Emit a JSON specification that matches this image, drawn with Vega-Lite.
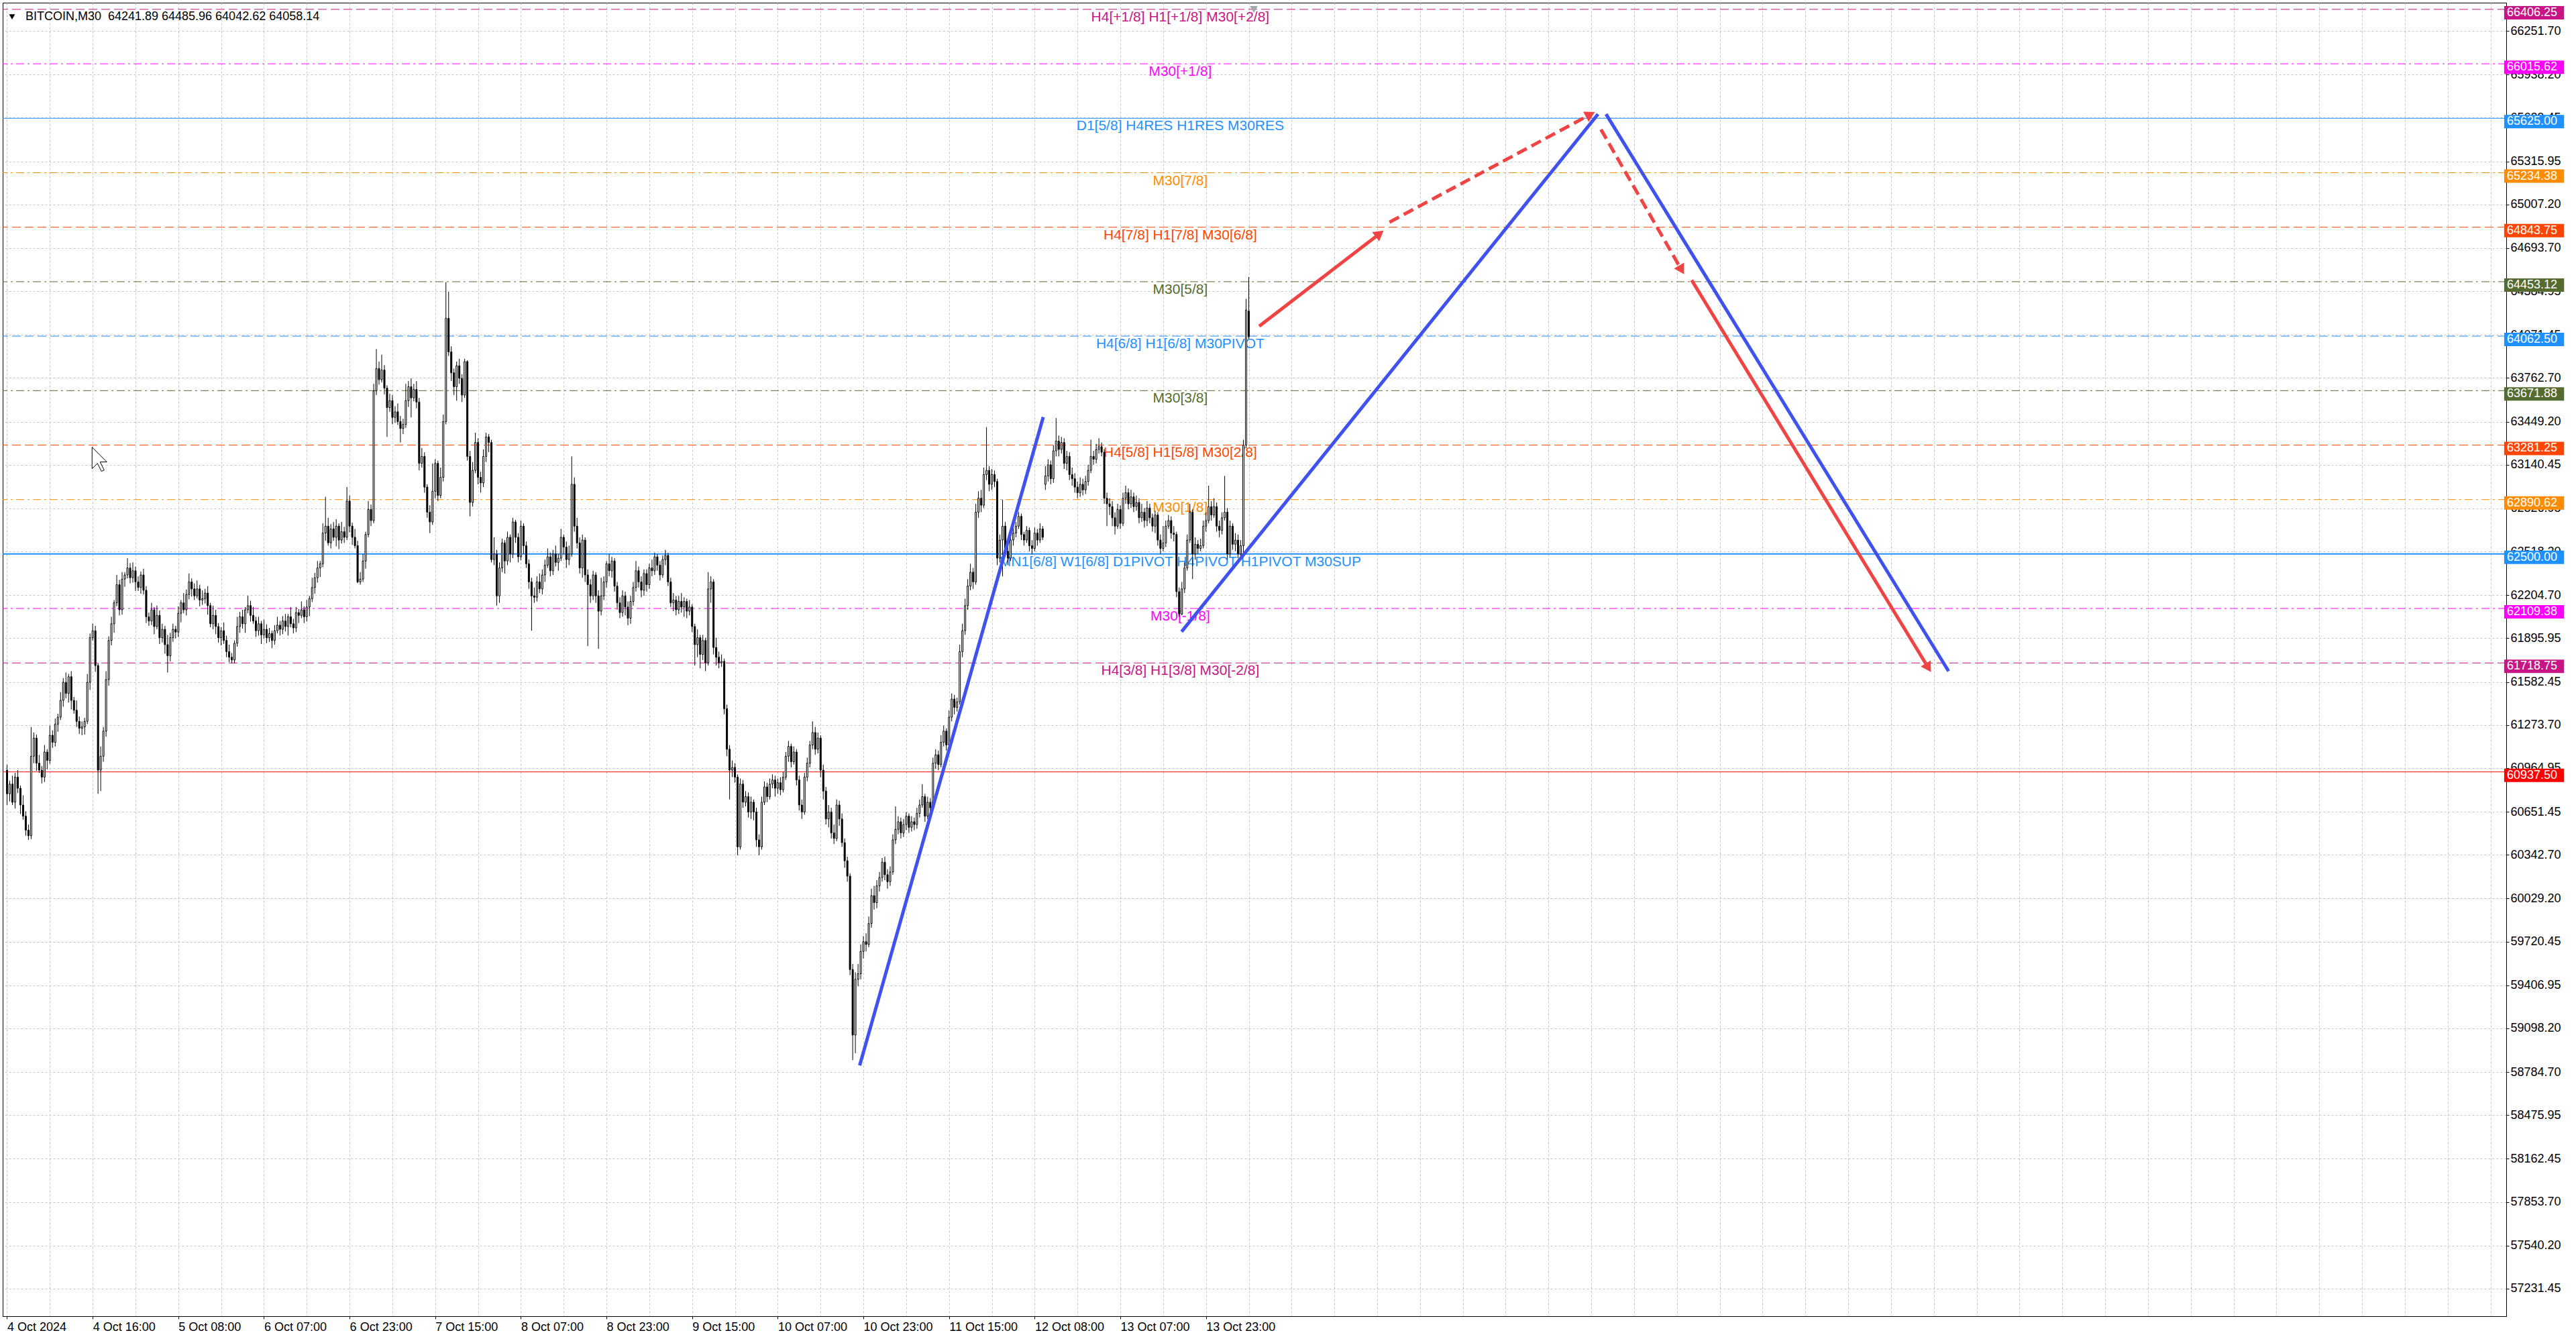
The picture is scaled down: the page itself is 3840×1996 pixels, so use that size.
{
"$schema": "https://vega.github.io/schema/vega-lite/v6.json",
"width": 3732, "height": 1958,
"autosize": {"type": "none"},
"padding": {"left": 4, "top": 4, "right": 104, "bottom": 34},
"background": "#FFFFFF",
"resolve": {"scale": {"strokeDash": "independent", "angle": "independent"}},
"config": {
 "view": {"stroke": "#000000", "strokeWidth": 1},
 "axis": {"labelFont": "Liberation Sans", "labelFontSize": 18, "labelColor": "#000000", "tickColor": "#000000", "domainColor": "#000000", "gridColor": "#C4C4C4", "gridDash": [3, 3], "gridWidth": 1, "title": null}
},
"datasets": {
"levels": [
{"p":66406.25,"t":"H4[+1/8] H1[+1/8] M30[+2/8]","k":"mvr","lab":"66406.25"},
{"p":66015.62,"t":"M30[+1/8]","k":"mag","lab":"66015.62"},
{"p":65625.00,"t":"D1[5/8] H4RES H1RES M30RES","k":"blue","lab":"65625.00"},
{"p":65234.38,"t":"M30[7/8]","k":"orange","lab":"65234.38"},
{"p":64843.75,"t":"H4[7/8] H1[7/8] M30[6/8]","k":"ored","lab":"64843.75"},
{"p":64453.12,"t":"M30[5/8]","k":"olive","lab":"64453.12"},
{"p":64062.50,"t":"H4[6/8] H1[6/8] M30PIVOT","k":"blued","lab":"64062.50"},
{"p":63671.88,"t":"M30[3/8]","k":"olive","lab":"63671.88"},
{"p":63281.25,"t":"H4[5/8] H1[5/8] M30[2/8]","k":"ored","lab":"63281.25"},
{"p":62890.62,"t":"M30[1/8]","k":"orange","lab":"62890.62"},
{"p":62500.00,"t":"MN1[6/8] W1[6/8] D1PIVOT H4PIVOT H1PIVOT M30SUP","k":"blueb","lab":"62500.00"},
{"p":62109.38,"t":"M30[-1/8]","k":"mag","lab":"62109.38"},
{"p":61718.75,"t":"H4[3/8] H1[3/8] M30[-2/8]","k":"mvr","lab":"61718.75"},
{"p":60937.50,"t":"","k":"red","lab":"60937.50"}
],
"trend": [
{"g":"A","b":318.6,"v":58832},{"g":"A","b":387.2,"v":63482},
{"g":"B","b":438.9,"v":61943},{"g":"B","b":594.5,"v":65655},
{"g":"C","b":597.5,"v":65655},{"g":"C","b":725.5,"v":61660}
],
"arrows": [
{"g":"S1","b":467.9,"v":64134},{"g":"S1","b":512.4,"v":64790},
{"g":"D1","b":516.6,"v":64880},{"g":"D1","b":591.1,"v":65647},
{"g":"D2","b":595.6,"v":65545},{"g":"D2","b":625.4,"v":64548},
{"g":"S2","b":629.5,"v":64464},{"g":"S2","b":717.6,"v":61695}
],
"heads": [
{"g":"S1","b":512.4,"v":64790},{"g":"D1","b":591.1,"v":65647},{"g":"D2","b":625.4,"v":64548},{"g":"S2","b":717.6,"v":61695}
],
"candles": [
{"i":0,"o":60950,"h":60990,"l":60700,"c":60780},{"i":1,"o":60780,"h":60875,"l":60725,"c":60850},{"i":2,"o":60850,"h":60910,"l":60700,"c":60720},{"i":3,"o":60720,"h":60930,"l":60675,"c":60900},{"i":4,"o":60900,"h":60950,"l":60785,"c":60820},
{"i":5,"o":60820,"h":60840,"l":60635,"c":60700},{"i":6,"o":60700,"h":60770,"l":60595,"c":60620},{"i":7,"o":60620,"h":60655,"l":60480,"c":60520},{"i":8,"o":60520,"h":60560,"l":60450,"c":60480},{"i":9,"o":60480,"h":61260,"l":60455,"c":61050},
{"i":10,"o":61050,"h":61220,"l":61000,"c":61180},{"i":11,"o":61180,"h":61205,"l":60945,"c":61000},{"i":12,"o":61000,"h":61060,"l":60930,"c":60950},{"i":13,"o":60950,"h":60980,"l":60855,"c":60900},{"i":14,"o":60900,"h":61130,"l":60865,"c":61080},
{"i":15,"o":61080,"h":61100,"l":60955,"c":61020},{"i":16,"o":61020,"h":61270,"l":60995,"c":61200},{"i":17,"o":61200,"h":61235,"l":61110,"c":61150},{"i":18,"o":61150,"h":61320,"l":61120,"c":61280},{"i":19,"o":61280,"h":61355,"l":61225,"c":61330},
{"i":20,"o":61330,"h":61510,"l":61310,"c":61450},{"i":21,"o":61450,"h":61610,"l":61405,"c":61580},{"i":22,"o":61580,"h":61650,"l":61465,"c":61500},{"i":23,"o":61500,"h":61640,"l":61435,"c":61620},{"i":24,"o":61620,"h":61660,"l":61385,"c":61450},
{"i":25,"o":61450,"h":61475,"l":61355,"c":61380},{"i":26,"o":61380,"h":61450,"l":61260,"c":61300},{"i":27,"o":61300,"h":61335,"l":61210,"c":61250},{"i":28,"o":61250,"h":61300,"l":61200,"c":61260},{"i":29,"o":61260,"h":61325,"l":61205,"c":61300},
{"i":30,"o":61300,"h":61640,"l":61280,"c":61580},{"i":31,"o":61580,"h":61930,"l":61525,"c":61900},{"i":32,"o":61900,"h":62000,"l":61880,"c":61950},{"i":33,"o":61950,"h":61985,"l":61655,"c":61700},{"i":34,"o":61700,"h":61720,"l":60780,"c":60950},
{"i":35,"o":60950,"h":61120,"l":60800,"c":61050},{"i":36,"o":61050,"h":61260,"l":61010,"c":61230},{"i":37,"o":61230,"h":61660,"l":61190,"c":61600},{"i":38,"o":61600,"h":61910,"l":61555,"c":61880},{"i":39,"o":61880,"h":62050,"l":61845,"c":62000},
{"i":40,"o":62000,"h":62170,"l":61935,"c":62150},{"i":41,"o":62150,"h":62350,"l":62125,"c":62280},{"i":42,"o":62280,"h":62315,"l":62060,"c":62100},{"i":43,"o":62100,"h":62370,"l":62065,"c":62320},{"i":44,"o":62320,"h":62370,"l":62265,"c":62350},
{"i":45,"o":62350,"h":62470,"l":62325,"c":62400},{"i":46,"o":62400,"h":62435,"l":62290,"c":62330},{"i":47,"o":62330,"h":62440,"l":62295,"c":62380},{"i":48,"o":62380,"h":62410,"l":62235,"c":62300},{"i":49,"o":62300,"h":62340,"l":62235,"c":62260},
{"i":50,"o":62260,"h":62375,"l":62215,"c":62350},{"i":51,"o":62350,"h":62395,"l":62210,"c":62240},{"i":52,"o":62240,"h":62270,"l":62005,"c":62050},{"i":53,"o":62050,"h":62080,"l":61985,"c":62020},{"i":54,"o":62020,"h":62150,"l":61990,"c":62100},
{"i":55,"o":62100,"h":62120,"l":61925,"c":61980},{"i":56,"o":61980,"h":62130,"l":61960,"c":62060},{"i":57,"o":62060,"h":62095,"l":61855,"c":61900},{"i":58,"o":61900,"h":62000,"l":61865,"c":61960},{"i":59,"o":61960,"h":61985,"l":61785,"c":61850},
{"i":60,"o":61850,"h":61920,"l":61650,"c":61770},{"i":61,"o":61770,"h":61935,"l":61730,"c":61900},{"i":62,"o":61900,"h":62000,"l":61870,"c":61960},{"i":63,"o":61960,"h":61985,"l":61895,"c":61940},{"i":64,"o":61940,"h":62125,"l":61905,"c":62075},
{"i":65,"o":62075,"h":62170,"l":62010,"c":62150},{"i":66,"o":62150,"h":62220,"l":62075,"c":62100},{"i":67,"o":62100,"h":62245,"l":62060,"c":62210},{"i":68,"o":62210,"h":62360,"l":62175,"c":62300},{"i":69,"o":62300,"h":62325,"l":62195,"c":62250},
{"i":70,"o":62250,"h":62290,"l":62170,"c":62200},{"i":71,"o":62200,"h":62310,"l":62180,"c":62250},{"i":72,"o":62250,"h":62280,"l":62125,"c":62170},{"i":73,"o":62170,"h":62240,"l":62135,"c":62180},{"i":74,"o":62180,"h":62250,"l":62145,"c":62220},
{"i":75,"o":62220,"h":62270,"l":62065,"c":62130},{"i":76,"o":62130,"h":62150,"l":61975,"c":62000},{"i":77,"o":62000,"h":62130,"l":61960,"c":62060},{"i":78,"o":62060,"h":62100,"l":61925,"c":61980},{"i":79,"o":61980,"h":62005,"l":61865,"c":61900},
{"i":80,"o":61900,"h":61975,"l":61845,"c":61950},{"i":81,"o":61950,"h":62010,"l":61855,"c":61880},{"i":82,"o":61880,"h":61915,"l":61760,"c":61800},{"i":83,"o":61800,"h":61850,"l":61725,"c":61760},{"i":84,"o":61760,"h":61790,"l":61715,"c":61740},
{"i":85,"o":61740,"h":61880,"l":61715,"c":61860},{"i":86,"o":61860,"h":62050,"l":61835,"c":61980},{"i":87,"o":61980,"h":62085,"l":61935,"c":62050},{"i":88,"o":62050,"h":62100,"l":61965,"c":62000},{"i":89,"o":62000,"h":62120,"l":61935,"c":62100},
{"i":90,"o":62100,"h":62200,"l":62075,"c":62130},{"i":91,"o":62130,"h":62165,"l":62015,"c":62060},{"i":92,"o":62060,"h":62120,"l":62000,"c":62020},{"i":93,"o":62020,"h":62050,"l":61905,"c":61950},{"i":94,"o":61950,"h":62050,"l":61915,"c":62000},
{"i":95,"o":62000,"h":62020,"l":61855,"c":61920},{"i":96,"o":61920,"h":62030,"l":61895,"c":61960},{"i":97,"o":61960,"h":61995,"l":61860,"c":61900},{"i":98,"o":61900,"h":61970,"l":61870,"c":61930},{"i":99,"o":61930,"h":61950,"l":61825,"c":61880},
{"i":100,"o":61880,"h":61990,"l":61850,"c":61950},{"i":101,"o":61950,"h":62050,"l":61930,"c":61990},{"i":102,"o":61990,"h":62020,"l":61915,"c":61960},{"i":103,"o":61960,"h":62055,"l":61925,"c":62020},{"i":104,"o":62020,"h":62070,"l":61945,"c":61980},
{"i":105,"o":61980,"h":62070,"l":61915,"c":62050},{"i":106,"o":62050,"h":62120,"l":61975,"c":62000},{"i":107,"o":62000,"h":62035,"l":61930,"c":61970},{"i":108,"o":61970,"h":62120,"l":61940,"c":62080},{"i":109,"o":62080,"h":62105,"l":62005,"c":62060},
{"i":110,"o":62060,"h":62160,"l":62040,"c":62100},{"i":111,"o":62100,"h":62125,"l":62005,"c":62050},{"i":112,"o":62050,"h":62170,"l":62015,"c":62120},{"i":113,"o":62120,"h":62200,"l":62055,"c":62180},{"i":114,"o":62180,"h":62330,"l":62155,"c":62260},
{"i":115,"o":62260,"h":62365,"l":62215,"c":62330},{"i":116,"o":62330,"h":62450,"l":62295,"c":62400},{"i":117,"o":62400,"h":62450,"l":62335,"c":62430},{"i":118,"o":62430,"h":62720,"l":62405,"c":62650},{"i":119,"o":62650,"h":62910,"l":62595,"c":62700},
{"i":120,"o":62700,"h":62760,"l":62560,"c":62580},{"i":121,"o":62580,"h":62715,"l":62540,"c":62680},{"i":122,"o":62680,"h":62730,"l":62595,"c":62620},{"i":123,"o":62620,"h":62750,"l":62555,"c":62700},{"i":124,"o":62700,"h":62720,"l":62535,"c":62600},
{"i":125,"o":62600,"h":62730,"l":62575,"c":62660},{"i":126,"o":62660,"h":62695,"l":62580,"c":62620},{"i":127,"o":62620,"h":62980,"l":62600,"c":62880},{"i":128,"o":62880,"h":62920,"l":62655,"c":62700},{"i":129,"o":62700,"h":62725,"l":62565,"c":62620},
{"i":130,"o":62620,"h":62680,"l":62540,"c":62560},{"i":131,"o":62560,"h":62595,"l":62290,"c":62300},{"i":132,"o":62300,"h":62370,"l":62280,"c":62320},{"i":133,"o":62320,"h":62500,"l":62300,"c":62450},{"i":134,"o":62450,"h":62660,"l":62395,"c":62640},
{"i":135,"o":62640,"h":62880,"l":62620,"c":62820},{"i":136,"o":62820,"h":62855,"l":62700,"c":62740},{"i":137,"o":62740,"h":63720,"l":62720,"c":63670},{"i":138,"o":63670,"h":63970,"l":63640,"c":63830},{"i":139,"o":63830,"h":63880,"l":63715,"c":63750},
{"i":140,"o":63750,"h":63930,"l":63730,"c":63820},{"i":141,"o":63820,"h":63855,"l":63645,"c":63690},{"i":142,"o":63690,"h":63710,"l":63340,"c":63550},{"i":143,"o":63550,"h":63650,"l":63520,"c":63600},{"i":144,"o":63600,"h":63640,"l":63430,"c":63480},
{"i":145,"o":63480,"h":63560,"l":63440,"c":63520},{"i":146,"o":63520,"h":63580,"l":63425,"c":63450},{"i":147,"o":63450,"h":63490,"l":63300,"c":63400},{"i":148,"o":63400,"h":63470,"l":63360,"c":63430},{"i":149,"o":63430,"h":63720,"l":63405,"c":63600},
{"i":150,"o":63600,"h":63740,"l":63555,"c":63700},{"i":151,"o":63700,"h":63760,"l":63480,"c":63620},{"i":152,"o":63620,"h":63720,"l":63595,"c":63680},{"i":153,"o":63680,"h":63740,"l":63545,"c":63590},{"i":154,"o":63590,"h":63620,"l":63100,"c":63150},
{"i":155,"o":63150,"h":63260,"l":63120,"c":63200},{"i":156,"o":63200,"h":63230,"l":62940,"c":62980},{"i":157,"o":62980,"h":63000,"l":62760,"c":62800},{"i":158,"o":62800,"h":62850,"l":62650,"c":62730},{"i":159,"o":62730,"h":63150,"l":62710,"c":62950},
{"i":160,"o":62950,"h":63180,"l":62900,"c":63150},{"i":161,"o":63150,"h":63170,"l":62880,"c":62920},{"i":162,"o":62920,"h":63120,"l":62900,"c":63050},{"i":163,"o":63050,"h":63500,"l":63020,"c":63450},{"i":164,"o":63450,"h":64450,"l":63430,"c":64190},
{"i":165,"o":64190,"h":64380,"l":63920,"c":63950},{"i":166,"o":63950,"h":63990,"l":63740,"c":63800},{"i":167,"o":63800,"h":63830,"l":63640,"c":63700},{"i":168,"o":63700,"h":63880,"l":63600,"c":63850},{"i":169,"o":63850,"h":63900,"l":63720,"c":63760},
{"i":170,"o":63760,"h":63790,"l":63590,"c":63640},{"i":171,"o":63640,"h":63900,"l":63620,"c":63880},{"i":172,"o":63880,"h":63890,"l":63170,"c":63200},{"i":173,"o":63200,"h":63240,"l":62770,"c":62870},{"i":174,"o":62870,"h":63160,"l":62840,"c":63100},
{"i":175,"o":63100,"h":63370,"l":63080,"c":63300},{"i":176,"o":63300,"h":63330,"l":63000,"c":63050},{"i":177,"o":63050,"h":63090,"l":62940,"c":63010},{"i":178,"o":63010,"h":63250,"l":62980,"c":63200},{"i":179,"o":63200,"h":63370,"l":63160,"c":63340},
{"i":180,"o":63340,"h":63360,"l":63230,"c":63300},{"i":181,"o":63300,"h":63320,"l":62440,"c":62460},{"i":182,"o":62460,"h":62620,"l":62420,"c":62500},{"i":183,"o":62500,"h":62530,"l":62130,"c":62200},{"i":184,"o":62200,"h":62440,"l":62150,"c":62400},
{"i":185,"o":62400,"h":62610,"l":62370,"c":62580},{"i":186,"o":62580,"h":62600,"l":62360,"c":62450},{"i":187,"o":62450,"h":62660,"l":62420,"c":62620},{"i":188,"o":62620,"h":62640,"l":62440,"c":62500},{"i":189,"o":62500,"h":62760,"l":62470,"c":62730},
{"i":190,"o":62730,"h":62745,"l":62580,"c":62620},{"i":191,"o":62620,"h":62650,"l":62440,"c":62480},{"i":192,"o":62480,"h":62740,"l":62455,"c":62700},{"i":193,"o":62700,"h":62720,"l":62500,"c":62560},{"i":194,"o":62560,"h":62590,"l":62400,"c":62430},
{"i":195,"o":62430,"h":62460,"l":62250,"c":62300},{"i":196,"o":62300,"h":62330,"l":61950,"c":62200},{"i":197,"o":62200,"h":62260,"l":62150,"c":62190},{"i":198,"o":62190,"h":62340,"l":62160,"c":62300},{"i":199,"o":62300,"h":62360,"l":62220,"c":62250},
{"i":200,"o":62250,"h":62390,"l":62210,"c":62350},{"i":201,"o":62350,"h":62460,"l":62300,"c":62420},{"i":202,"o":62420,"h":62540,"l":62400,"c":62480},{"i":203,"o":62480,"h":62510,"l":62340,"c":62380},{"i":204,"o":62380,"h":62530,"l":62350,"c":62500},
{"i":205,"o":62500,"h":62560,"l":62410,"c":62440},{"i":206,"o":62440,"h":62500,"l":62380,"c":62470},{"i":207,"o":62470,"h":62680,"l":62450,"c":62620},{"i":208,"o":62620,"h":62640,"l":62500,"c":62550},{"i":209,"o":62550,"h":62590,"l":62400,"c":62460},
{"i":210,"o":62460,"h":62560,"l":62420,"c":62500},{"i":211,"o":62500,"h":63200,"l":62480,"c":63000},{"i":212,"o":63000,"h":63050,"l":62660,"c":62700},{"i":213,"o":62700,"h":62760,"l":62540,"c":62580},{"i":214,"o":62580,"h":62620,"l":62360,"c":62400},
{"i":215,"o":62400,"h":62640,"l":62330,"c":62600},{"i":216,"o":62600,"h":62620,"l":62300,"c":62350},{"i":217,"o":62350,"h":62390,"l":61840,"c":62280},{"i":218,"o":62280,"h":62320,"l":62150,"c":62200},{"i":219,"o":62200,"h":62380,"l":62170,"c":62350},
{"i":220,"o":62350,"h":62370,"l":62150,"c":62200},{"i":221,"o":62200,"h":62240,"l":61820,"c":62090},{"i":222,"o":62090,"h":62330,"l":62060,"c":62200},{"i":223,"o":62200,"h":62340,"l":62170,"c":62300},{"i":224,"o":62300,"h":62450,"l":62260,"c":62430},
{"i":225,"o":62430,"h":62500,"l":62340,"c":62380},{"i":226,"o":62380,"h":62480,"l":62330,"c":62450},{"i":227,"o":62450,"h":62470,"l":62230,"c":62270},{"i":228,"o":62270,"h":62300,"l":62100,"c":62150},{"i":229,"o":62150,"h":62190,"l":62040,"c":62080},
{"i":230,"o":62080,"h":62240,"l":62050,"c":62200},{"i":231,"o":62200,"h":62230,"l":62060,"c":62120},{"i":232,"o":62120,"h":62160,"l":61990,"c":62040},{"i":233,"o":62040,"h":62200,"l":62000,"c":62160},{"i":234,"o":62160,"h":62300,"l":62130,"c":62260},
{"i":235,"o":62260,"h":62450,"l":62230,"c":62380},{"i":236,"o":62380,"h":62410,"l":62260,"c":62300},{"i":237,"o":62300,"h":62340,"l":62190,"c":62240},{"i":238,"o":62240,"h":62390,"l":62200,"c":62360},{"i":239,"o":62360,"h":62390,"l":62230,"c":62280},
{"i":240,"o":62280,"h":62430,"l":62250,"c":62400},{"i":241,"o":62400,"h":62460,"l":62340,"c":62380},{"i":242,"o":62380,"h":62510,"l":62350,"c":62480},{"i":243,"o":62480,"h":62500,"l":62380,"c":62420},{"i":244,"o":62420,"h":62450,"l":62310,"c":62350},
{"i":245,"o":62350,"h":62490,"l":62330,"c":62460},{"i":246,"o":62460,"h":62530,"l":62420,"c":62490},{"i":247,"o":62490,"h":62510,"l":62270,"c":62300},{"i":248,"o":62300,"h":62330,"l":62120,"c":62150},{"i":249,"o":62150,"h":62220,"l":62090,"c":62170},
{"i":250,"o":62170,"h":62200,"l":62060,"c":62100},{"i":251,"o":62100,"h":62200,"l":62070,"c":62160},{"i":252,"o":62160,"h":62220,"l":62080,"c":62120},{"i":253,"o":62120,"h":62190,"l":62050,"c":62160},{"i":254,"o":62160,"h":62180,"l":62040,"c":62090},
{"i":255,"o":62090,"h":62170,"l":62060,"c":62120},{"i":256,"o":62120,"h":62140,"l":61940,"c":61980},{"i":257,"o":61980,"h":62000,"l":61700,"c":61850},{"i":258,"o":61850,"h":61960,"l":61760,"c":61900},{"i":259,"o":61900,"h":61920,"l":61680,"c":61780},
{"i":260,"o":61780,"h":61920,"l":61740,"c":61880},{"i":261,"o":61880,"h":61900,"l":61660,"c":61720},{"i":262,"o":61720,"h":62370,"l":61700,"c":62250},{"i":263,"o":62250,"h":62340,"l":62150,"c":62300},{"i":264,"o":62300,"h":62320,"l":61780,"c":61830},
{"i":265,"o":61830,"h":61900,"l":61700,"c":61760},{"i":266,"o":61760,"h":61800,"l":61680,"c":61720},{"i":267,"o":61720,"h":61780,"l":61690,"c":61730},{"i":268,"o":61730,"h":61750,"l":61350,"c":61390},{"i":269,"o":61390,"h":61420,"l":61050,"c":61100},
{"i":270,"o":61100,"h":61130,"l":60740,"c":60950},{"i":271,"o":60950,"h":61020,"l":60900,"c":60970},{"i":272,"o":60970,"h":61000,"l":60860,"c":60900},{"i":273,"o":60900,"h":60920,"l":60340,"c":60400},{"i":274,"o":60400,"h":60890,"l":60380,"c":60850},
{"i":275,"o":60850,"h":60880,"l":60680,"c":60720},{"i":276,"o":60720,"h":60800,"l":60690,"c":60760},{"i":277,"o":60760,"h":60790,"l":60610,"c":60650},{"i":278,"o":60650,"h":60760,"l":60600,"c":60720},{"i":279,"o":60720,"h":60740,"l":60590,"c":60650},
{"i":280,"o":60650,"h":60680,"l":60400,"c":60450},{"i":281,"o":60450,"h":60490,"l":60340,"c":60400},{"i":282,"o":60400,"h":60760,"l":60380,"c":60720},{"i":283,"o":60720,"h":60870,"l":60700,"c":60830},{"i":284,"o":60830,"h":60860,"l":60720,"c":60760},
{"i":285,"o":60760,"h":60890,"l":60740,"c":60850},{"i":286,"o":60850,"h":60920,"l":60820,"c":60880},{"i":287,"o":60880,"h":60910,"l":60760,"c":60820},{"i":288,"o":60820,"h":60890,"l":60780,"c":60860},{"i":289,"o":60860,"h":60900,"l":60770,"c":60810},
{"i":290,"o":60810,"h":60940,"l":60790,"c":60900},{"i":291,"o":60900,"h":61080,"l":60880,"c":61050},{"i":292,"o":61050,"h":61160,"l":61010,"c":61120},{"i":293,"o":61120,"h":61140,"l":60970,"c":61010},{"i":294,"o":61010,"h":61120,"l":60990,"c":61080},
{"i":295,"o":61080,"h":61100,"l":60840,"c":60880},{"i":296,"o":60880,"h":60910,"l":60660,"c":60700},{"i":297,"o":60700,"h":60740,"l":60600,"c":60650},{"i":298,"o":60650,"h":60930,"l":60630,"c":60900},{"i":299,"o":60900,"h":61040,"l":60870,"c":61000},
{"i":300,"o":61000,"h":61160,"l":60970,"c":61130},{"i":301,"o":61130,"h":61300,"l":61100,"c":61220},{"i":302,"o":61220,"h":61260,"l":61060,"c":61100},{"i":303,"o":61100,"h":61220,"l":61070,"c":61180},{"i":304,"o":61180,"h":61200,"l":60900,"c":60950},
{"i":305,"o":60950,"h":60990,"l":60740,"c":60800},{"i":306,"o":60800,"h":60830,"l":60560,"c":60600},{"i":307,"o":60600,"h":60700,"l":60540,"c":60650},{"i":308,"o":60650,"h":60680,"l":60460,"c":60500},{"i":309,"o":60500,"h":60560,"l":60420,"c":60460},
{"i":310,"o":60460,"h":60740,"l":60440,"c":60700},{"i":311,"o":60700,"h":60730,"l":60550,"c":60600},{"i":312,"o":60600,"h":60640,"l":60400,"c":60430},{"i":313,"o":60430,"h":60460,"l":60250,"c":60300},{"i":314,"o":60300,"h":60330,"l":60150,"c":60190},
{"i":315,"o":60190,"h":60210,"l":59480,"c":59520},{"i":316,"o":59520,"h":59560,"l":58870,"c":59050},{"i":317,"o":59050,"h":59500,"l":58920,"c":59450},{"i":318,"o":59450,"h":59560,"l":59400,"c":59490},{"i":319,"o":59490,"h":59700,"l":59450,"c":59650},
{"i":320,"o":59650,"h":59760,"l":59600,"c":59720},{"i":321,"o":59720,"h":59780,"l":59650,"c":59700},{"i":322,"o":59700,"h":59900,"l":59680,"c":59850},{"i":323,"o":59850,"h":60100,"l":59820,"c":60050},{"i":324,"o":60050,"h":60120,"l":59950,"c":60000},
{"i":325,"o":60000,"h":60160,"l":59960,"c":60120},{"i":326,"o":60120,"h":60220,"l":60080,"c":60180},{"i":327,"o":60180,"h":60320,"l":60150,"c":60290},{"i":328,"o":60290,"h":60330,"l":60160,"c":60200},{"i":329,"o":60200,"h":60240,"l":60100,"c":60150},
{"i":330,"o":60150,"h":60260,"l":60120,"c":60220},{"i":331,"o":60220,"h":60490,"l":60200,"c":60450},{"i":332,"o":60450,"h":60690,"l":60420,"c":60525},{"i":333,"o":60525,"h":60620,"l":60490,"c":60580},{"i":334,"o":60580,"h":60610,"l":60460,"c":60500},
{"i":335,"o":60500,"h":60600,"l":60470,"c":60560},{"i":336,"o":60560,"h":60650,"l":60520,"c":60620},{"i":337,"o":60620,"h":60640,"l":60500,"c":60540},{"i":338,"o":60540,"h":60620,"l":60510,"c":60580},{"i":339,"o":60580,"h":60610,"l":60520,"c":60560},
{"i":340,"o":60560,"h":60680,"l":60530,"c":60640},{"i":341,"o":60640,"h":60740,"l":60610,"c":60700},{"i":342,"o":60700,"h":60850,"l":60680,"c":60760},{"i":343,"o":60760,"h":60780,"l":60580,"c":60620},{"i":344,"o":60620,"h":60760,"l":60600,"c":60720},
{"i":345,"o":60720,"h":60750,"l":60640,"c":60680},{"i":346,"o":60680,"h":61040,"l":60660,"c":61000},{"i":347,"o":61000,"h":61100,"l":60960,"c":61060},{"i":348,"o":61060,"h":61090,"l":60950,"c":60990},{"i":349,"o":60990,"h":61200,"l":60970,"c":61150},
{"i":350,"o":61150,"h":61270,"l":61120,"c":61230},{"i":351,"o":61230,"h":61250,"l":61090,"c":61130},{"i":352,"o":61130,"h":61380,"l":61110,"c":61330},{"i":353,"o":61330,"h":61500,"l":61300,"c":61460},{"i":354,"o":61460,"h":61490,"l":61350,"c":61400},
{"i":355,"o":61400,"h":61470,"l":61370,"c":61440},{"i":356,"o":61440,"h":61850,"l":61420,"c":61800},{"i":357,"o":61800,"h":62000,"l":61760,"c":61950},{"i":358,"o":61950,"h":62180,"l":61920,"c":62130},{"i":359,"o":62130,"h":62320,"l":62100,"c":62270},
{"i":360,"o":62270,"h":62430,"l":62240,"c":62370},{"i":361,"o":62370,"h":62400,"l":62250,"c":62300},{"i":362,"o":62300,"h":62860,"l":62280,"c":62800},{"i":363,"o":62800,"h":62950,"l":62760,"c":62900},{"i":364,"o":62900,"h":62960,"l":62800,"c":62850},
{"i":365,"o":62850,"h":63120,"l":62830,"c":63070},{"i":366,"o":63070,"h":63410,"l":63030,"c":63100},{"i":367,"o":63100,"h":63130,"l":62950,"c":63000},{"i":368,"o":63000,"h":63110,"l":62960,"c":63070},{"i":369,"o":63070,"h":63100,"l":62980,"c":63020},
{"i":370,"o":63020,"h":63040,"l":62420,"c":62470},{"i":371,"o":62470,"h":62640,"l":62440,"c":62600},{"i":372,"o":62600,"h":62890,"l":62340,"c":62700},{"i":373,"o":62700,"h":62730,"l":62480,"c":62520},{"i":374,"o":62520,"h":62560,"l":62420,"c":62470},
{"i":375,"o":62470,"h":62640,"l":62450,"c":62600},{"i":376,"o":62600,"h":62690,"l":62560,"c":62650},{"i":377,"o":62650,"h":62730,"l":62620,"c":62700},{"i":378,"o":62700,"h":62800,"l":62680,"c":62770},{"i":379,"o":62770,"h":62790,"l":62600,"c":62640},
{"i":380,"o":62640,"h":62660,"l":62560,"c":62600},{"i":381,"o":62600,"h":62700,"l":62580,"c":62670},{"i":382,"o":62670,"h":62690,"l":62520,"c":62560},{"i":383,"o":62560,"h":62600,"l":62500,"c":62540},{"i":384,"o":62540,"h":62690,"l":62520,"c":62650},
{"i":385,"o":62650,"h":62680,"l":62560,"c":62600},{"i":386,"o":62600,"h":62720,"l":62580,"c":62680},{"i":387,"o":62680,"h":62700,"l":62600,"c":62620},{"i":388,"o":63000,"h":63130,"l":62960,"c":63060},{"i":389,"o":63060,"h":63180,"l":63020,"c":63140},
{"i":390,"o":63140,"h":63170,"l":63000,"c":63040},{"i":391,"o":63040,"h":63280,"l":63010,"c":63240},{"i":392,"o":63240,"h":63475,"l":63200,"c":63310},{"i":393,"o":63310,"h":63350,"l":63200,"c":63250},{"i":394,"o":63250,"h":63340,"l":63220,"c":63300},
{"i":395,"o":63300,"h":63330,"l":63110,"c":63150},{"i":396,"o":63150,"h":63240,"l":63100,"c":63200},{"i":397,"o":63200,"h":63230,"l":63030,"c":63070},{"i":398,"o":63070,"h":63120,"l":62990,"c":63040},{"i":399,"o":63040,"h":63080,"l":62940,"c":62980},
{"i":400,"o":62980,"h":63020,"l":62900,"c":62940},{"i":401,"o":62940,"h":63050,"l":62910,"c":63000},{"i":402,"o":63000,"h":63040,"l":62920,"c":62960},{"i":403,"o":62960,"h":63060,"l":62930,"c":63020},{"i":404,"o":63020,"h":63140,"l":62990,"c":63100},
{"i":405,"o":63100,"h":63320,"l":63080,"c":63200},{"i":406,"o":63200,"h":63240,"l":63140,"c":63180},{"i":407,"o":63180,"h":63290,"l":63150,"c":63250},{"i":408,"o":63250,"h":63330,"l":63220,"c":63270},{"i":409,"o":63270,"h":63300,"l":63200,"c":63230},
{"i":410,"o":63230,"h":63250,"l":62860,"c":62900},{"i":411,"o":62900,"h":62940,"l":62700,"c":62860},{"i":412,"o":62860,"h":62900,"l":62780,"c":62840},{"i":413,"o":62840,"h":62880,"l":62700,"c":62760},{"i":414,"o":62760,"h":62800,"l":62640,"c":62700},
{"i":415,"o":62700,"h":62860,"l":62680,"c":62820},{"i":416,"o":62820,"h":62850,"l":62680,"c":62720},{"i":417,"o":62720,"h":62940,"l":62700,"c":62900},{"i":418,"o":62900,"h":62990,"l":62860,"c":62940},{"i":419,"o":62940,"h":62970,"l":62820,"c":62860},
{"i":420,"o":62860,"h":62960,"l":62830,"c":62910},{"i":421,"o":62910,"h":62940,"l":62800,"c":62840},{"i":422,"o":62840,"h":62920,"l":62810,"c":62870},{"i":423,"o":62870,"h":62900,"l":62720,"c":62760},{"i":424,"o":62760,"h":62860,"l":62730,"c":62800},
{"i":425,"o":62800,"h":62830,"l":62690,"c":62740},{"i":426,"o":62740,"h":62880,"l":62700,"c":62830},{"i":427,"o":62830,"h":62860,"l":62720,"c":62760},{"i":428,"o":62760,"h":62790,"l":62660,"c":62700},{"i":429,"o":62700,"h":62810,"l":62650,"c":62780},
{"i":430,"o":62780,"h":62800,"l":62560,"c":62600},{"i":431,"o":62600,"h":62640,"l":62500,"c":62540},{"i":432,"o":62540,"h":62700,"l":62520,"c":62580},{"i":433,"o":62580,"h":62740,"l":62550,"c":62700},{"i":434,"o":62700,"h":62780,"l":62680,"c":62740},
{"i":435,"o":62740,"h":62770,"l":62610,"c":62650},{"i":436,"o":62650,"h":62700,"l":62590,"c":62640},{"i":437,"o":62640,"h":62660,"l":62190,"c":62230},{"i":438,"o":62230,"h":62260,"l":62050,"c":62070},{"i":439,"o":62070,"h":62300,"l":62060,"c":62250},
{"i":440,"o":62250,"h":62440,"l":62220,"c":62400},{"i":441,"o":62400,"h":62640,"l":62380,"c":62600},{"i":442,"o":62600,"h":62860,"l":62580,"c":62800},{"i":443,"o":62800,"h":62820,"l":62320,"c":62500},{"i":444,"o":62500,"h":62620,"l":62460,"c":62570},
{"i":445,"o":62570,"h":62600,"l":62500,"c":62540},{"i":446,"o":62540,"h":62610,"l":62520,"c":62560},{"i":447,"o":62560,"h":62740,"l":62540,"c":62700},{"i":448,"o":62700,"h":62800,"l":62660,"c":62740},{"i":449,"o":62740,"h":62990,"l":62720,"c":62840},
{"i":450,"o":62840,"h":62880,"l":62740,"c":62780},{"i":451,"o":62780,"h":62900,"l":62760,"c":62840},{"i":452,"o":62840,"h":62870,"l":62660,"c":62700},{"i":453,"o":62700,"h":62740,"l":62620,"c":62670},{"i":454,"o":62670,"h":62800,"l":62640,"c":62760},
{"i":455,"o":62760,"h":63060,"l":62740,"c":62800},{"i":456,"o":62800,"h":62830,"l":62460,"c":62500},{"i":457,"o":62500,"h":62740,"l":62480,"c":62700},{"i":458,"o":62700,"h":62720,"l":62530,"c":62570},{"i":459,"o":62570,"h":62650,"l":62520,"c":62600},
{"i":460,"o":62600,"h":62640,"l":62470,"c":62500},{"i":461,"o":62500,"h":62600,"l":62480,"c":62560},{"i":462,"o":62560,"h":63320,"l":62500,"c":63280},{"i":463,"o":63280,"h":64330,"l":63260,"c":64250},{"i":464,"o":64241.89,"h":64485.96,"l":64042.62,"c":64058.14}
]
},
"layer": [
{
 "data": {"name": "levels"},
 "mark": {"type": "rule"},
 "encoding": {
  "y": {"field": "p", "type": "quantitative", "title": null,
        "scale": {"domain": [57058, 66430], "nice": false, "zero": false},
        "axis": {"orient": "right", "values": [66251.70,65938.20,65629.45,65315.95,65007.20,64693.70,64384.95,64071.45,63762.70,63449.20,63140.45,62826.95,62518.20,62204.70,61895.95,61582.45,61273.70,60964.95,60651.45,60342.70,60029.20,59720.45,59406.95,59098.20,58784.70,58475.95,58162.45,57853.70,57540.20,57231.45],
                 "format": ".2f", "labelAlign": "left", "labelBaseline": "middle", "tickSize": 4, "labelPadding": 2, "grid": true, "title": null, "labelOverlap": false, "labelFlush": false}},
  "color": {"field": "k", "type": "nominal", "legend": null,
            "scale": {"domain": ["mvr","mag","blue","blueb","blued","orange","ored","olive","red"], "range": ["#C71585","#FF00FF","#1E90FF","#1E90FF","#1E90FF","#FF8C00","#FF4500","#556B2F","#FF0000"]}},
  "strokeDash": {"field": "k", "type": "nominal", "legend": null,
            "scale": {"domain": ["mvr","mag","blue","blueb","blued","orange","ored","olive","red"], "range": [[13,6],[12,5,3,5],[1,0],[1,0],[13,6],[12,5,3,5],[13,6],[12,5,3,5],[1,0]]}},
  "strokeWidth": {"condition": {"test": "datum.k === 'blueb'", "value": 2}, "value": 1}
 }
},
{
 "data": {"name": "levels"},
 "transform": [{"filter": "datum.t !== ''"}],
 "mark": {"type": "text", "font": "Liberation Sans", "fontSize": 21, "align": "center", "baseline": "top", "dy": 1},
 "encoding": {
  "x": {"datum": 438.4, "type": "quantitative", "title": null, "scale": {"domain": [-0.375, 932.625], "nice": false, "zero": false}},
  "y": {"field": "p", "type": "quantitative", "title": null, "scale": {"domain": [57058, 66430], "nice": false, "zero": false}},
  "text": {"field": "t"},
  "color": {"field": "k", "type": "nominal", "legend": null,
            "scale": {"domain": ["mvr","mag","blue","blueb","blued","orange","ored","olive","red"], "range": ["#C71585","#FF00FF","#1E90FF","#1E90FF","#1E90FF","#FF8C00","#FF4500","#556B2F","#FF0000"]}}
 }
},
{
 "data": {"name": "candles"},
 "mark": {"type": "rule", "color": "#000000", "strokeWidth": 1},
 "encoding": {
  "x": {"field": "i", "type": "quantitative", "title": null,
        "scale": {"domain": [-0.375, 932.625], "nice": false, "zero": false},
        "axis": {"values": [0,16,32,48,64,80,96,112,128,144,160,176,192,208,224,240,256,272,288,304,320,336,352,368,384,400,416,432,448,464,480,496,512,528,544,560,576,592,608,624,640,656,672,688,704,720,736,752,768,784,800,816,832,848,864,880,896,912,928],
                 "labelExpr": "(datum.value % 32 === 0 && datum.value <= 448) ? ['4 Oct 2024','4 Oct 16:00','5 Oct 08:00','6 Oct 07:00','6 Oct 23:00','7 Oct 15:00','8 Oct 07:00','8 Oct 23:00','9 Oct 15:00','10 Oct 07:00','10 Oct 23:00','11 Oct 15:00','12 Oct 08:00','13 Oct 07:00','13 Oct 23:00'][datum.value / 32] : ''",
                 "labelAlign": "left", "labelBaseline": "top", "labelOverlap": false, "labelFlush": false, "tickSize": 4, "labelPadding": 3, "grid": true, "title": null,
                 "tickColor": {"condition": {"test": "datum.value % 32 === 0 && datum.value <= 448", "value": "#000000"}, "value": "rgba(0,0,0,0)"}}},
  "y": {"field": "l", "type": "quantitative", "title": null, "scale": {"domain": [57058, 66430], "nice": false, "zero": false}},
  "y2": {"field": "h"}
 }
},
{
 "data": {"name": "candles"},
 "mark": {"type": "bar", "size": 2, "stroke": "#000000", "strokeWidth": 1, "orient": "vertical"},
 "encoding": {
  "x": {"field": "i", "type": "quantitative", "title": null, "scale": {"domain": [-0.375, 932.625], "nice": false, "zero": false}},
  "y": {"field": "o", "type": "quantitative", "title": null, "scale": {"domain": [57058, 66430], "nice": false, "zero": false}},
  "y2": {"field": "c"},
  "fill": {"condition": {"test": "datum.c >= datum.o", "value": "#FFFFFF"}, "value": "#000000"}
 }
},
{
 "data": {"name": "trend"},
 "mark": {"type": "line", "color": "#4052EE", "strokeWidth": 5, "strokeCap": "butt"},
 "encoding": {
  "x": {"field": "b", "type": "quantitative", "title": null, "scale": {"domain": [-0.375, 932.625], "nice": false, "zero": false}},
  "y": {"field": "v", "type": "quantitative", "title": null, "scale": {"domain": [57058, 66430], "nice": false, "zero": false}},
  "detail": {"field": "g"}
 }
},
{
 "data": {"name": "arrows"},
 "transform": [{"filter": "datum.g === 'S1' || datum.g === 'S2'"}],
 "mark": {"type": "line", "color": "#F04444", "strokeWidth": 5, "strokeCap": "butt"},
 "encoding": {
  "x": {"field": "b", "type": "quantitative", "title": null, "scale": {"domain": [-0.375, 932.625], "nice": false, "zero": false}},
  "y": {"field": "v", "type": "quantitative", "title": null, "scale": {"domain": [57058, 66430], "nice": false, "zero": false}},
  "detail": {"field": "g"}
 }
},
{
 "data": {"name": "arrows"},
 "transform": [{"filter": "datum.g === 'D1' || datum.g === 'D2'"}],
 "mark": {"type": "line", "color": "#F04444", "strokeWidth": 5, "strokeCap": "butt", "strokeDash": [16, 8]},
 "encoding": {
  "x": {"field": "b", "type": "quantitative", "title": null, "scale": {"domain": [-0.375, 932.625], "nice": false, "zero": false}},
  "y": {"field": "v", "type": "quantitative", "title": null, "scale": {"domain": [57058, 66430], "nice": false, "zero": false}},
  "detail": {"field": "g"}
 }
},
{
 "data": {"name": "heads"},
 "mark": {"type": "point", "shape": "triangle", "filled": true, "color": "#F04444", "opacity": 1, "size": 300},
 "encoding": {
  "x": {"field": "b", "type": "quantitative", "title": null, "scale": {"domain": [-0.375, 932.625], "nice": false, "zero": false}},
  "y": {"field": "v", "type": "quantitative", "title": null, "scale": {"domain": [57058, 66430], "nice": false, "zero": false}},
  "angle": {"field": "g", "type": "nominal", "legend": null, "scale": {"type": "ordinal", "domain": ["S1","D1","D2","S2"], "range": [52.4, 61.7, 150.3, 148.7]}}
 }
},
{
 "data": {"name": "levels"},
 "mark": {"type": "bar", "orient": "horizontal", "size": 20, "yOffset": 5},
 "encoding": {
  "x": {"datum": 933.1, "type": "quantitative", "title": null, "scale": {"domain": [-0.375, 932.625], "nice": false, "zero": false}},
  "x2": {"datum": 955.5},
  "y": {"field": "p", "type": "quantitative", "title": null, "scale": {"domain": [57058, 66430], "nice": false, "zero": false}},
  "fill": {"field": "k", "type": "nominal", "legend": null,
            "scale": {"domain": ["mvr","mag","blue","blueb","blued","orange","ored","olive","red"], "range": ["#C71585","#FF00FF","#1E90FF","#1E90FF","#1E90FF","#FF8C00","#FF4500","#556B2F","#FF0000"]}}
 }
},
{
 "data": {"name": "levels"},
 "mark": {"type": "text", "font": "Liberation Sans", "fontSize": 18, "align": "left", "baseline": "middle", "color": "#FFFFFF", "yOffset": 5},
 "encoding": {
  "x": {"datum": 934.1, "type": "quantitative", "title": null, "scale": {"domain": [-0.375, 932.625], "nice": false, "zero": false}},
  "y": {"field": "p", "type": "quantitative", "title": null, "scale": {"domain": [57058, 66430], "nice": false, "zero": false}},
  "text": {"field": "lab"}
 }
},
{
 "data": {"values": [{"t": "BITCOIN,M30\u00a0 64241.89 64485.96 64042.62 64058.14"}]},
 "mark": {"type": "text", "font": "Liberation Sans", "fontSize": 18, "align": "left", "baseline": "middle", "color": "#000000"},
 "encoding": {
  "x": {"datum": 6.875, "type": "quantitative", "title": null, "scale": {"domain": [-0.375, 932.625], "nice": false, "zero": false}},
  "y": {"datum": 66353, "type": "quantitative", "title": null, "scale": {"domain": [57058, 66430], "nice": false, "zero": false}},
  "text": {"field": "t"}
 }
},
{
 "data": {"values": [{"s": "title"}]},
 "mark": {"type": "point", "shape": "triangle-down", "filled": true, "color": "#000000", "opacity": 1, "size": 80},
 "encoding": {
  "x": {"datum": 1.875, "type": "quantitative", "title": null, "scale": {"domain": [-0.375, 932.625], "nice": false, "zero": false}},
  "y": {"datum": 66353, "type": "quantitative", "title": null, "scale": {"domain": [57058, 66430], "nice": false, "zero": false}}
 }
},
{
 "data": {"values": [{"s": "shift"}]},
 "mark": {"type": "point", "shape": "triangle-down", "filled": true, "color": "#A8A8A8", "opacity": 1, "size": 140},
 "encoding": {
  "x": {"datum": 465.9, "type": "quantitative", "title": null, "scale": {"domain": [-0.375, 932.625], "nice": false, "zero": false}},
  "y": {"datum": 66405, "type": "quantitative", "title": null, "scale": {"domain": [57058, 66430], "nice": false, "zero": false}}
 }
},
{
 "data": {"values": [{"s": "cursor"}]},
 "mark": {"type": "point", "shape": "M0,0L0,16L4,12L7,18L9,17L6,11L11,11Z", "filled": true, "fill": "#FFFFFF", "stroke": "#000000", "strokeWidth": 1, "opacity": 1, "size": 16},
 "encoding": {
  "x": {"datum": 31.775, "type": "quantitative", "title": null, "scale": {"domain": [-0.375, 932.625], "nice": false, "zero": false}},
  "y": {"datum": 63266, "type": "quantitative", "title": null, "scale": {"domain": [57058, 66430], "nice": false, "zero": false}}
 }
}
]
}
